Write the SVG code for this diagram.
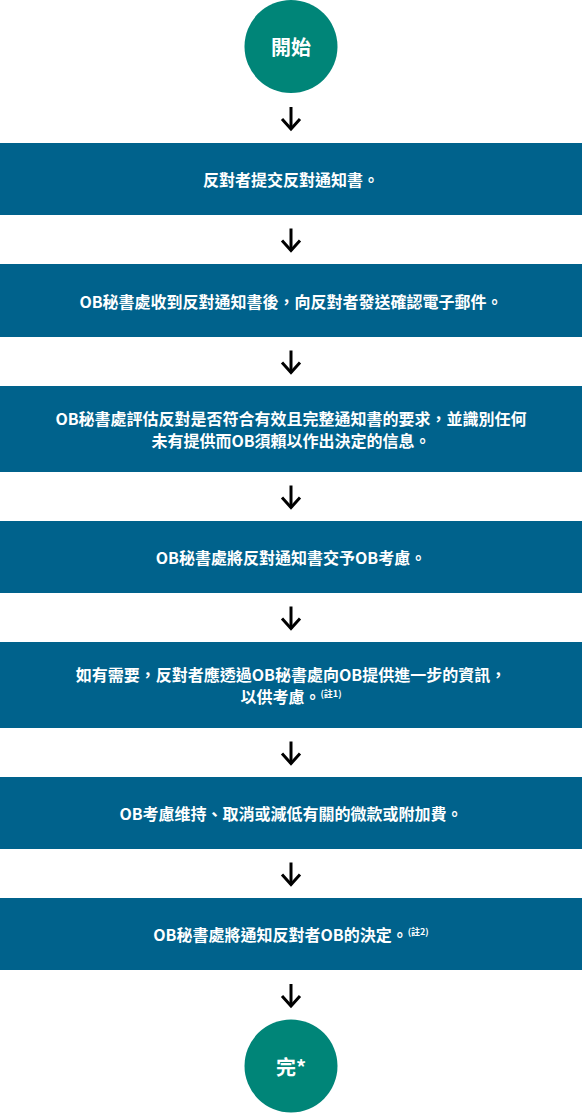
<svg xmlns="http://www.w3.org/2000/svg" width="582" height="1113" viewBox="0 0 582 1113">
<style>
.box{fill:#00628c}
.term{fill:#008578}
.t{fill:#fff;font-family:"Noto Sans CJK TC","Noto Sans CJK SC",sans-serif;font-weight:700;font-size:16px;text-anchor:middle;dominant-baseline:central}
.tt{font-size:20px}
.sup{font-size:9px}
.conn{stroke:#000;stroke-width:3;fill:none}
</style>
<defs>
<marker id="ah" markerUnits="userSpaceOnUse" markerWidth="30" markerHeight="30" viewBox="-15 -15 30 30" refX="0" refY="0" orient="auto" overflow="visible">
<path d="M-10,-9 L0,0 L-10,9" fill="none" stroke="#000" stroke-width="3"/>
</marker>
</defs>
<rect width="582" height="1113" fill="#fff"/>
<g id="connectors">
<path class="conn" d="M291,107 V129" marker-end="url(#ah)"/>
<path class="conn" d="M291,228.5 V250.5" marker-end="url(#ah)"/>
<path class="conn" d="M291,350.5 V372.5" marker-end="url(#ah)"/>
<path class="conn" d="M291,485.5 V507.5" marker-end="url(#ah)"/>
<path class="conn" d="M291,606.5 V628.5" marker-end="url(#ah)"/>
<path class="conn" d="M291,741.5 V763.5" marker-end="url(#ah)"/>
<path class="conn" d="M291,862.5 V884.5" marker-end="url(#ah)"/>
<path class="conn" d="M291,984 V1006" marker-end="url(#ah)"/>
</g>
<g id="start">
<circle class="term" cx="291" cy="46.5" r="46.5"/>
<text class="t tt" x="291" y="46">開始</text>
</g>
<g id="step1">
<rect class="box" x="0" y="143" width="582" height="72"/>
<text class="t" x="291" y="179">反對者提交反對通知書。</text>
</g>
<g id="step2">
<rect class="box" x="0" y="264" width="582" height="73"/>
<text class="t" x="291" y="300.5">OB秘書處收到反對通知書後，向反對者發送確認電子郵件。</text>
</g>
<g id="step3">
<rect class="box" x="0" y="386" width="582" height="86"/>
<text class="t" x="291" y="418">OB秘書處評估反對是否符合有效且完整通知書的要求，並識別任何</text>
<text class="t" x="291" y="440">未有提供而OB須賴以作出決定的信息。</text>
</g>
<g id="step4">
<rect class="box" x="0" y="521" width="582" height="72"/>
<text class="t" x="291" y="557">OB秘書處將反對通知書交予OB考慮。</text>
</g>
<g id="step5">
<rect class="box" x="0" y="642" width="582" height="86"/>
<text class="t" x="291" y="674">如有需要，反對者應透過OB秘書處向OB提供進一步的資訊，</text>
<text class="t" x="291" y="696">以供考慮。<tspan class="sup" dy="-3">(註1)</tspan></text>
</g>
<g id="step6">
<rect class="box" x="0" y="777" width="582" height="72"/>
<text class="t" x="291" y="813">OB考慮维持、取消或減低有關的微款或附加費。</text>
</g>
<g id="step7">
<rect class="box" x="0" y="898" width="582" height="72"/>
<text class="t" x="291" y="934">OB秘書處將通知反對者OB的決定。<tspan class="sup" dy="-3">(註2)</tspan></text>
</g>
<g id="end">
<circle class="term" cx="291" cy="1066" r="46.5"/>
<text class="t tt" x="291" y="1066">完*</text>
</g>
</svg>
